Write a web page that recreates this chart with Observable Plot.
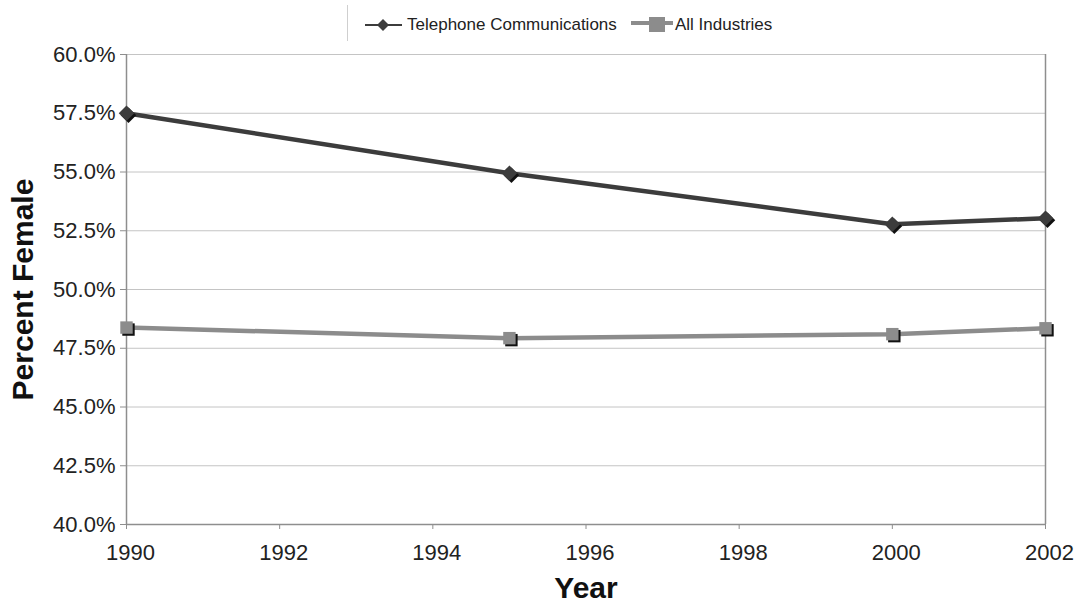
<!DOCTYPE html>
<html>
<head>
<meta charset="utf-8">
<script src="https://cdn.jsdelivr.net/npm/d3@7"></script>
<script src="https://cdn.jsdelivr.net/npm/@observablehq/plot@0.6"></script>
<style>
  body { margin: 0; background: #fff; font-family: "Liberation Sans", Arial, sans-serif; }
  #legend { position: relative; height: 35px; width: 1079px; }
  #legend .sep { position: absolute; left: 347px; top: 5px; width: 1px; height: 36px; background: #cfcfcf; }
  #legend .item { position: absolute; top: 15px; display: flex; align-items: center; font-size: 17px; color: #222; }
  #legend svg { display: block; }
  #chart svg { display: block; }
</style>
</head>
<body>
<div id="legend"></div>
<div id="chart"></div>
<script>
const years = [1990, 1995, 2000, 2002];
const telephone = [57.5, 54.95, 52.78, 53.03];
const allIndustries = [48.38, 47.93, 48.1, 48.35];
const seriesNames = ["Telephone Communications", "All Industries"];
const yTicks = [40, 42.5, 45, 47.5, 50, 52.5, 55, 57.5, 60];
const xTicks = [1990, 1992, 1994, 1996, 1998, 2000, 2002];

const colors = {"Telephone Communications": "#3c3c3c", "All Industries": "#8c8c8c"};
const symbols = {"Telephone Communications": "diamond2", "All Industries": "square"};

const data = [];
years.forEach((y, i) => data.push({year: y, value: telephone[i], series: seriesNames[0]}));
years.forEach((y, i) => data.push({year: y, value: allIndustries[i], series: seriesNames[1]}));

// Legend
const legend = document.getElementById("legend");
legend.innerHTML = `<div class="sep"></div>
<div class="item" style="left:365px">
  <svg width="39" height="20"><line x1="0" y1="10" x2="37" y2="10" stroke="${colors[seriesNames[0]]}" stroke-width="2"/>
  <path d="M18,4 L24,10 L18,16 L12,10 Z" fill="${colors[seriesNames[0]]}"/></svg>
  <span style="margin-left:3px">${seriesNames[0]}</span></div>
<div class="item" style="left:631px">
  <svg width="42" height="20"><line x1="0" y1="8" x2="42" y2="8" stroke="${colors[seriesNames[1]]}" stroke-width="4"/>
  <rect x="18" y="2" width="16" height="15" fill="${colors[seriesNames[1]]}"/></svg>
  <span style="margin-left:2px">${seriesNames[1]}</span></div>`;

const H = 569;
const plot = Plot.plot({
  width: 1079,
  height: H,
  marginLeft: 126,
  marginRight: 34,
  marginTop: 19,
  marginBottom: 80,
  style: {fontFamily: "Liberation Sans, Arial, sans-serif", fontSize: "22px", color: "#222", background: "#fff"},
  x: {domain: [1990, 2002], ticks: xTicks, tickFormat: "d", label: null},
  y: {domain: [40, 60], ticks: yTicks, tickFormat: d => d.toFixed(1) + "%", label: null},
  marks: [
    Plot.ruleY(yTicks.filter(d => d > 40), {stroke: "#c4c4c4", strokeWidth: 1}),
    Plot.ruleX([1990, 2002], {stroke: "#8e8e8e", strokeWidth: 1.5}),
    Plot.ruleY([40], {stroke: "#8e8e8e", strokeWidth: 1.5}),
    Plot.axisY({ticks: yTicks, tickFormat: d => d.toFixed(1) + "%", tickSize: 6, tickPadding: 5, fontSize: 22, stroke: "#8e8e8e", label: null}),
    Plot.axisX({ticks: xTicks, tickFormat: () => "", tickSize: 5, stroke: "#8e8e8e", label: null}),
    Plot.axisX({ticks: xTicks, tickFormat: "d", tickSize: 0, tickPadding: 20, dx: 4, fontSize: 22, label: null}),
    Plot.line(data, {x: "year", y: "value", z: "series", stroke: d => colors[d.series], strokeWidth: 4.5}),
    Plot.dot(data, {x: "year", y: "value", symbol: d => symbols[d.series], r: 7, fill: "#111", dx: 2, dy: 2}),
    Plot.dot(data, {x: "year", y: "value", symbol: d => symbols[d.series], r: 7, fill: d => colors[d.series]}),
    Plot.text(["Percent Female"], {frameAnchor: "left", textAnchor: "middle", rotate: -90, dx: -103, fontSize: 30, fontWeight: "bold", fill: "#111"}),
    Plot.text(["Year"], {frameAnchor: "bottom", dy: 73, fontSize: 30, fontWeight: "bold", fill: "#111"})
  ]
});
document.getElementById("chart").appendChild(plot);
</script>
</body>
</html>
